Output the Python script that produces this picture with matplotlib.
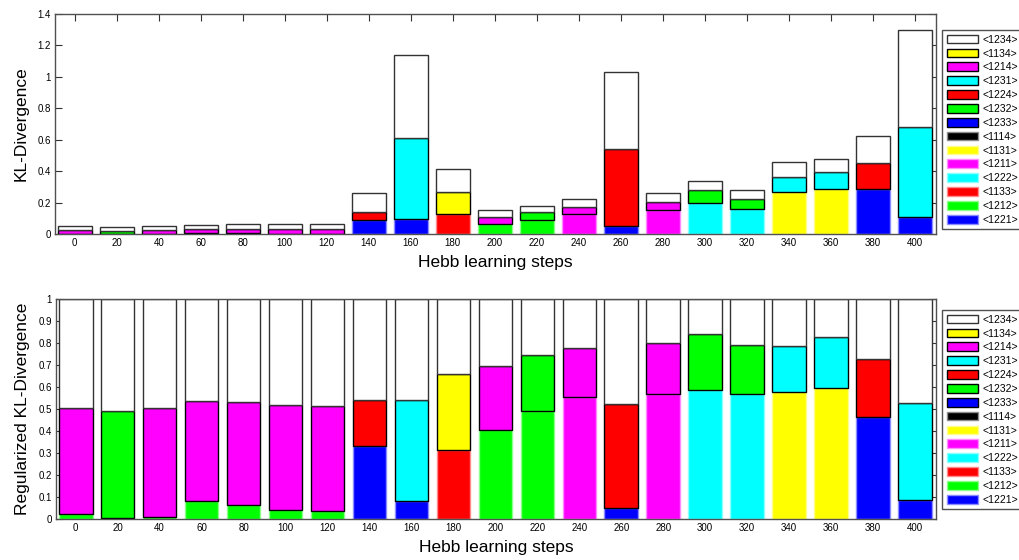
import numpy as np
import matplotlib
matplotlib.use("Agg")
import matplotlib.pyplot as plt
from matplotlib.patches import Patch
from matplotlib.colors import to_rgb

# ============================================================
# DATA
# ============================================================

steps = [0, 20, 40, 60, 80, 100, 120, 140, 160, 180, 200,
         220, 240, 260, 280, 300, 320, 340, 360, 380, 400]

# stacking order, bottom -> top
series = ["1221", "1212", "1133", "1222", "1211", "1131", "1114",
          "1233", "1232", "1224", "1231", "1214", "1134", "1234"]

series_colors = ["blue", "lime", "red", "cyan", "magenta", "yellow", "black",
                 "blue", "lime", "red", "cyan", "magenta", "yellow", "white"]

# which sequence fills the lower and middle block of each bar
low_series = ["1212", "1212", "1212", "1212", "1212", "1212", "1212",
              "1221", "1221", "1133", "1212", "1212", "1211", "1221",
              "1211", "1222", "1222", "1131", "1131", "1221", "1221"]
mid_series = ["1214", "1232", "1214", "1214", "1214", "1214", "1214",
              "1224", "1231", "1134", "1214", "1232", "1214", "1224",
              "1214", "1232", "1232", "1231", "1231", "1224", "1231"]

# KL-divergence contributions (top panel)
kl_low = [0.002, 0.0002, 0.0005, 0.005, 0.004, 0.0025, 0.0023,
          0.089, 0.093, 0.129, 0.061, 0.091, 0.125, 0.051,
          0.152, 0.196, 0.160, 0.266, 0.285, 0.287, 0.110]
kl_mid = [0.025, 0.021, 0.026, 0.025, 0.029, 0.030, 0.030,
          0.052, 0.519, 0.141, 0.045, 0.046, 0.046, 0.487,
          0.053, 0.087, 0.062, 0.095, 0.108, 0.165, 0.574]
kl_rest = [0.026, 0.023, 0.024, 0.027, 0.030, 0.031, 0.031,
           0.119, 0.526, 0.142, 0.044, 0.042, 0.051, 0.495,
           0.055, 0.055, 0.061, 0.099, 0.086, 0.173, 0.617]

# regularized KL-divergence (bottom panel)
reg_low = [0.025, 0.005, 0.010, 0.080, 0.065, 0.040, 0.036,
           0.330, 0.080, 0.315, 0.403, 0.489, 0.553, 0.048,
           0.570, 0.586, 0.570, 0.579, 0.597, 0.465, 0.085]
reg_mid = [0.480, 0.485, 0.495, 0.455, 0.465, 0.478, 0.476,
           0.209, 0.459, 0.343, 0.294, 0.256, 0.223, 0.473,
           0.228, 0.256, 0.222, 0.209, 0.230, 0.262, 0.441]
reg_rest = [0.495, 0.510, 0.495, 0.465, 0.470, 0.482, 0.488,
            0.461, 0.461, 0.342, 0.303, 0.255, 0.224, 0.479,
            0.202, 0.158, 0.208, 0.212, 0.173, 0.273, 0.474]

plt.rcParams['font.family'] = ['Liberation Sans', 'DejaVu Sans']


def build_table(low, mid, rest):
    table = {s: np.zeros(len(steps)) for s in series}
    for i in range(len(steps)):
        table[low_series[i]][i] += low[i]
        table[mid_series[i]][i] += mid[i]
        table["1234"][i] += rest[i]
    return table


def edge_for(k, color):
    if color == "white":
        return "#333333"
    if k < 7:
        r, g, b = to_rgb(color)
        return (0.55 + 0.45 * r, 0.55 + 0.45 * g, 0.55 + 0.45 * b)
    return "black"


def draw_panel(ax, table, ymax, yticks, ylabel):
    x = np.arange(len(steps))
    cum = np.zeros(len(steps))
    for k, s in enumerate(series):
        h = table[s]
        m = h > 0
        if m.any():
            ax.bar(x[m], h[m], bottom=cum[m], width=0.8,
                   color=series_colors[k],
                   edgecolor=edge_for(k, series_colors[k]),
                   linewidth=1.0, zorder=2)
        cum = cum + h

    ax.set_xlim(-0.47, 20.5)
    ax.set_ylim(0, ymax)
    ax.set_xticks(x)
    ax.set_xticklabels([str(v) for v in steps])
    ax.set_yticks(yticks)
    ax.set_yticklabels(["%g" % v for v in yticks])
    ax.tick_params(direction='in', length=5, width=0.8, labelsize=7,
                   top=True, right=True, color='#333333', pad=3)
    for sp in ax.spines.values():
        sp.set_color('#505050')
        sp.set_linewidth(1.0)
    ax.set_xlabel("Hebb learning steps", fontsize=12.5, labelpad=5)
    ax.set_ylabel(ylabel, fontsize=12.5, labelpad=6)

    handles = []
    for k in range(len(series) - 1, -1, -1):
        handles.append(Patch(facecolor=series_colors[k],
                             edgecolor=edge_for(k, series_colors[k]),
                             linewidth=1.0,
                             label="<" + series[k] + ">"))
    return handles


fig = plt.figure(figsize=(10.2, 5.6), dpi=100)

ax1 = fig.add_axes([55 / 1020, 1 - 234 / 560, 881 / 1020, 220 / 560])
ax2 = fig.add_axes([56 / 1020, 1 - 519 / 560, 880 / 1020, 220 / 560])

h1 = draw_panel(ax1, build_table(kl_low, kl_mid, kl_rest), 1.4,
                [0, 0.2, 0.4, 0.6, 0.8, 1, 1.2, 1.4], "KL-Divergence")
h2 = draw_panel(ax2, build_table(reg_low, reg_mid, reg_rest), 1.0,
                [0, 0.1, 0.2, 0.3, 0.4, 0.5, 0.6, 0.7, 0.8, 0.9, 1],
                "Regularized KL-Divergence")

for handles, top in [(h1, 30), (h2, 310)]:
    leg = fig.legend(handles=handles, loc='upper left',
                     bbox_to_anchor=(942 / 1020, 1 - top / 560),
                     bbox_transform=fig.transFigure, borderaxespad=0,
                     fontsize=7.5, handlelength=3.0, handleheight=0.9,
                     labelspacing=0.37, handletextpad=0.4,
                     borderpad=0.45, fancybox=False, framealpha=1)
    leg.get_frame().set_edgecolor('#505050')
    leg.get_frame().set_linewidth(1.0)

fig.savefig("out.png", dpi=100)
